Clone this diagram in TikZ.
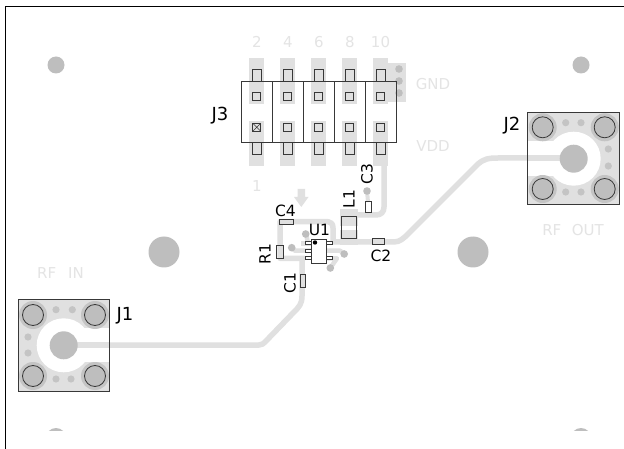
\documentclass[tikz,border=0pt]{standalone}
\usepackage{fontspec}
\setmainfont{DejaVu Sans}
\definecolor{trk}{HTML}{E0E0E0}
\definecolor{pad}{HTML}{C4C4C4}
\definecolor{via}{HTML}{BEBEBE}
\definecolor{silk}{HTML}{E4E4E4}
\definecolor{ink}{HTML}{383838}
\tikzset{
  trace/.style={draw=trk,line width=5.5pt,line join=round},
  part/.style={draw=ink,line width=1pt,fill=white},
  partnf/.style={draw=ink,line width=1pt},
  smalldot/.style={fill=pad,draw=none},
  lab/.style={font=\fontsize{15.5}{15.5}\selectfont,text=black,inner sep=0pt},
  labj/.style={font=\fontsize{18}{18}\selectfont,text=black,inner sep=0pt},
  silktxt/.style={font=\fontsize{15}{15}\selectfont,text=silk,inner sep=0pt},
}
\newcommand{\cornerpad}[2]{%
  \fill[pad] (#1,#2) circle (14);
  \draw[fill=via,draw=ink,line width=.8pt] (#1,#2) circle (10.5);
}
\begin{document}
\begin{tikzpicture}[x=1pt,y=-1pt]
\useasboundingbox (0,0) rectangle (624,449);
\fill[white] (0,0) rectangle (624,449);
% board outline
\draw[black,line width=.9pt] (5.5,449) -- (5.5,6) -- (624,6);
% mounting holes
\fill[via] (56,65) circle (8.5);
\fill[via] (581,65) circle (8.5);
\fill[via] (164,252) circle (15.5);
\fill[via] (473,252) circle (15.5);
\begin{scope}
\clip (0,420) rectangle (624,430);
\fill[via] (56,438) circle (10);
\fill[via] (581,438) circle (10);
\end{scope}
% header pads
\foreach \x in {256.7,287.7,318.7,349.7,380.7}{
  \fill[trk] (\x-7.5,58.5) rectangle (\x+7.5,104);
  \fill[trk] (\x-7.5,120.7) rectangle (\x+7.5,165.7);
}
\fill[trk] (388,62.7) rectangle (405.7,101.7);
\foreach \y in {69,81,93}{\fill[via] (399,\y) circle (3.8);}
% traces
\draw[trace] (384,160) -- (384,207) .. controls (384,212) and (381,215) .. (376,215) -- (349,215);
\draw[trace] (573,158) -- (498,158) .. controls (488,158) and (484,159) .. (478,164) -- (409,233) .. controls (404,238) and (400,242) .. (394,242) -- (333,242);
\draw[trace] (333,242) -- (333,228) .. controls (333,224) and (331,221.7) .. (328,221.7) -- (280,221.7) -- (280,258.3) -- (305,258.3);
\draw[trace] (63,345) -- (259,345) .. controls (262,345) and (264,343.5) .. (266,341) -- (294,312) .. controls (299,307) and (302,304) .. (302,296) -- (302,259);
\draw[trace,line width=4.5pt] (292,248) -- (295,250.7) -- (340,250.7) -- (344.7,254);
\draw[trace,line width=4.5pt] (301,243.3) -- (311,243.3);
\draw[trace,line width=4.5pt] (306,234) -- (308,243);
\draw[trace,line width=4.5pt] (326,258.3) -- (337,258.3) -- (330.3,268);
\draw[trace,line width=4pt] (367,191) -- (368,202);
\fill[trk] (340,209) rectangle (357.5,226.5);
\fill[trk] (340,230.5) rectangle (357.5,245);
% vias
\fill[via] (367,191) circle (3.8);
\fill[via] (305.7,234) circle (3.8);
\fill[via] (291.7,247.7) circle (3.8);
\fill[via] (344.2,254) circle (3.8);
\fill[via] (330.3,268) circle (3.8);
% J1
\fill[trk] (18.3,299.3) rectangle (109.3,391);
\fill[white] (63.7,345.3) circle (27);
\fill[white] (63.7,328) rectangle (109.3,361.7);
\draw[trace] (64,345) -- (109.3,345);
\fill[via] (63.7,345.3) circle (14);
\foreach \p in {(56,309.7),(72.3,309.7),(56,379),(71,379),(28,337),(28,353)}{\fill[smalldot] \p circle (3.6);}
\cornerpad{33}{315}\cornerpad{95}{315}\cornerpad{33}{376}\cornerpad{95}{376}
\draw[partnf] (18.3,299.3) rectangle (109.3,391);
% J2
\fill[trk] (527.7,112.7) rectangle (619.7,204.3);
\fill[white] (573.7,158.7) circle (27);
\fill[white] (527.7,141) rectangle (573.7,176);
\draw[trace] (527.7,158) -- (573,158);
\fill[via] (573.7,158.7) circle (14);
\foreach \p in {(565.7,122.7),(581,122.7),(565.7,192),(581,192),(608.3,149),(608.3,166)}{\fill[smalldot] \p circle (3.6);}
\cornerpad{542.7}{127.3}\cornerpad{604.7}{127.3}\cornerpad{542.7}{189}\cornerpad{604.7}{189}
\draw[partnf] (527.7,112.7) rectangle (619.7,204.3);
% J3 body
\draw[partnf] (241.7,81.7) rectangle (396,142.7);
\foreach \x in {272.5,303.3,334.2,365}{\draw[partnf] (\x,81.7) -- (\x,142.7);}
\foreach \x in {256.7,287.7,318.7,349.7,380.7}{
  \draw[partnf] (\x-4.3,69.5) rectangle (\x+4.3,81.7);
  \draw[partnf] (\x-4.3,142.7) rectangle (\x+4.3,155);
  \draw[partnf] (\x-4,92.3) rectangle (\x+4,100.3);
  \draw[partnf] (\x-4,123.3) rectangle (\x+4,131.3);
}
\draw[ink,line width=.5pt] (252.7,123.3) -- (260.7,131.3) (252.7,131.3) -- (260.7,123.3);
% arrow marker
\fill[trk] (297.7,189) -- (305,189) -- (305,197) -- (308.5,197) -- (301.3,207) -- (294,197) -- (297.7,197) -- cycle;
% small parts
\draw[partnf] (279.3,219.3) rectangle (293.3,224.3);
\draw[partnf] (372.3,239) rectangle (384.5,244.5);
\draw[partnf] (365,201.7) rectangle (371.5,213);
\draw[partnf] (276.7,246) rectangle (283.3,258.7);
\draw[partnf] (300,274.3) rectangle (305.5,287.3);
\draw[partnf] (341.7,216.7) rectangle (356.7,238.3);
% U1
\foreach \y in {243.3,250.7,258.3}{\draw[partnf,fill=white] (305.5,\y-1.5) rectangle (311,\y+1.5);}
\foreach \y in {243.3,258.3}{\draw[partnf,fill=white] (326.7,\y-1.5) rectangle (332,\y+1.5);}
\draw[part] (311,239.3) rectangle (326.7,263.3);
\fill[black] (315,242.5) circle (2.2);
% labels
\node[labj] (lJ3) at (220,115.5) {J3};
\node[labj] (lJ1) at (125,316) {J1};
\node[labj] (lJ2) at (512,126) {J2};
\node[lab] (lU1) at (319.5,229.5) {U1};
\node[lab] (lC4) at (285.5,211) {C4};
\node[lab] (lC2) at (381,255.5) {C2};
\node[lab,rotate=90] (lL1) at (349,199) {L1};
\node[lab,rotate=90] (lC3) at (367,174) {C3};
\node[lab,rotate=90] (lR1) at (265,254) {R1};
\node[lab,rotate=90] (lC1) at (290,283) {C1};
\node[silktxt] (s2) at (257,42) {2};
\node[silktxt] (s4) at (288,42) {4};
\node[silktxt] (s6) at (319,42) {6};
\node[silktxt] (s8) at (350,42) {8};
\node[silktxt] (s10) at (380.5,42) {10};
\node[silktxt] (s1) at (257,186) {1};
\node[silktxt] (sGND) at (433,84) {GND};
\node[silktxt] (sVDD) at (433,146) {VDD};
\node[silktxt] (sIN) at (60.5,273) {RF\hspace{.8em}IN};
\node[silktxt] (sOUT) at (573,230) {RF\hspace{.7em}OUT};
\end{tikzpicture}
\end{document}
